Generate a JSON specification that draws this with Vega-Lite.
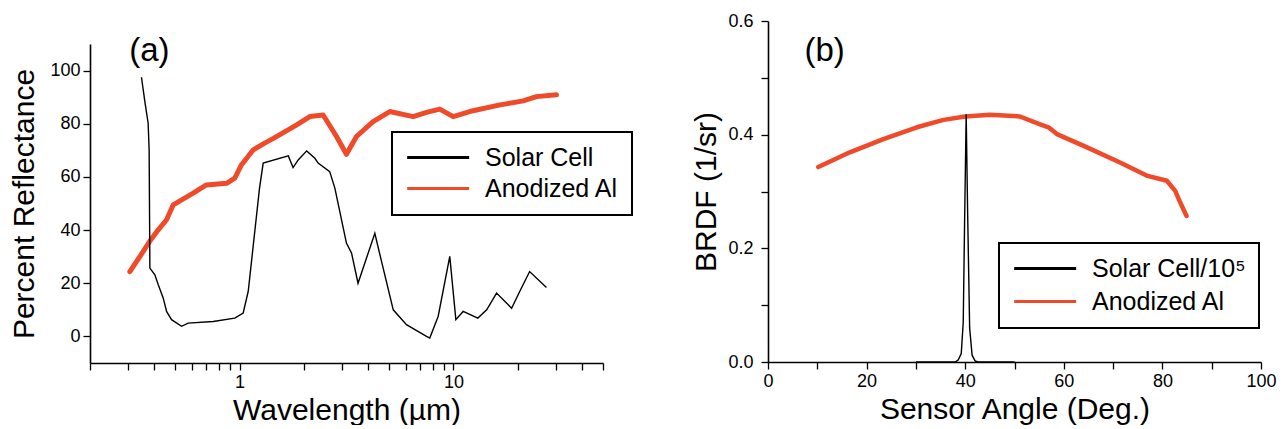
{
  "$schema": "https://vega.github.io/schema/vega-lite/v6.json",
  "padding": {"left": 9, "top": 12, "right": 5, "bottom": 0},
  "background": "white",
  "datasets": {
    "reflect": [
      {"wavelength": 0.348, "reflectance": 97.5, "series": "Solar Cell"},
      {"wavelength": 0.361, "reflectance": 88.3, "series": "Solar Cell"},
      {"wavelength": 0.374, "reflectance": 80.2, "series": "Solar Cell"},
      {"wavelength": 0.378, "reflectance": 70.0, "series": "Solar Cell"},
      {"wavelength": 0.381, "reflectance": 25.7, "series": "Solar Cell"},
      {"wavelength": 0.402, "reflectance": 23.2, "series": "Solar Cell"},
      {"wavelength": 0.417, "reflectance": 19.4, "series": "Solar Cell"},
      {"wavelength": 0.44, "reflectance": 14.4, "series": "Solar Cell"},
      {"wavelength": 0.456, "reflectance": 9.4, "series": "Solar Cell"},
      {"wavelength": 0.481, "reflectance": 6.3, "series": "Solar Cell"},
      {"wavelength": 0.536, "reflectance": 3.8, "series": "Solar Cell"},
      {"wavelength": 0.575, "reflectance": 5.0, "series": "Solar Cell"},
      {"wavelength": 0.753, "reflectance": 5.6, "series": "Solar Cell"},
      {"wavelength": 0.95, "reflectance": 6.9, "series": "Solar Cell"},
      {"wavelength": 1.04, "reflectance": 8.8, "series": "Solar Cell"},
      {"wavelength": 1.098, "reflectance": 16.9, "series": "Solar Cell"},
      {"wavelength": 1.24, "reflectance": 55.8, "series": "Solar Cell"},
      {"wavelength": 1.29, "reflectance": 65.2, "series": "Solar Cell"},
      {"wavelength": 1.69, "reflectance": 67.9, "series": "Solar Cell"},
      {"wavelength": 1.78, "reflectance": 63.5, "series": "Solar Cell"},
      {"wavelength": 1.88, "reflectance": 66.4, "series": "Solar Cell"},
      {"wavelength": 2.06, "reflectance": 69.8, "series": "Solar Cell"},
      {"wavelength": 2.25, "reflectance": 67.0, "series": "Solar Cell"},
      {"wavelength": 2.33, "reflectance": 65.2, "series": "Solar Cell"},
      {"wavelength": 2.64, "reflectance": 62.0, "series": "Solar Cell"},
      {"wavelength": 2.79, "reflectance": 55.8, "series": "Solar Cell"},
      {"wavelength": 3.16, "reflectance": 35.1, "series": "Solar Cell"},
      {"wavelength": 3.34, "reflectance": 31.3, "series": "Solar Cell"},
      {"wavelength": 3.58, "reflectance": 20.0, "series": "Solar Cell"},
      {"wavelength": 4.29, "reflectance": 38.8, "series": "Solar Cell"},
      {"wavelength": 4.61, "reflectance": 28.2, "series": "Solar Cell"},
      {"wavelength": 5.23, "reflectance": 10.0, "series": "Solar Cell"},
      {"wavelength": 6.03, "reflectance": 4.4, "series": "Solar Cell"},
      {"wavelength": 7.48, "reflectance": 0.0, "series": "Solar Cell"},
      {"wavelength": 7.75, "reflectance": -0.6, "series": "Solar Cell"},
      {"wavelength": 8.48, "reflectance": 7.5, "series": "Solar Cell"},
      {"wavelength": 9.61, "reflectance": 30.1, "series": "Solar Cell"},
      {"wavelength": 10.26, "reflectance": 6.3, "series": "Solar Cell"},
      {"wavelength": 11.1, "reflectance": 9.4, "series": "Solar Cell"},
      {"wavelength": 13.0, "reflectance": 6.9, "series": "Solar Cell"},
      {"wavelength": 14.3, "reflectance": 10.0, "series": "Solar Cell"},
      {"wavelength": 15.9, "reflectance": 16.3, "series": "Solar Cell"},
      {"wavelength": 18.7, "reflectance": 10.6, "series": "Solar Cell"},
      {"wavelength": 20.4, "reflectance": 16.9, "series": "Solar Cell"},
      {"wavelength": 22.7, "reflectance": 24.4, "series": "Solar Cell"},
      {"wavelength": 27.2, "reflectance": 18.4, "series": "Solar Cell"},
      {"wavelength": 0.307, "reflectance": 24.4, "series": "Anodized Al"},
      {"wavelength": 0.345, "reflectance": 30.5, "series": "Anodized Al"},
      {"wavelength": 0.381, "reflectance": 35.9, "series": "Anodized Al"},
      {"wavelength": 0.417, "reflectance": 40.1, "series": "Anodized Al"},
      {"wavelength": 0.456, "reflectance": 43.9, "series": "Anodized Al"},
      {"wavelength": 0.49, "reflectance": 49.5, "series": "Anodized Al"},
      {"wavelength": 0.607, "reflectance": 53.9, "series": "Anodized Al"},
      {"wavelength": 0.70, "reflectance": 57.0, "series": "Anodized Al"},
      {"wavelength": 0.87, "reflectance": 57.6, "series": "Anodized Al"},
      {"wavelength": 0.95, "reflectance": 59.5, "series": "Anodized Al"},
      {"wavelength": 1.02, "reflectance": 64.5, "series": "Anodized Al"},
      {"wavelength": 1.16, "reflectance": 70.2, "series": "Anodized Al"},
      {"wavelength": 1.31, "reflectance": 72.7, "series": "Anodized Al"},
      {"wavelength": 1.44, "reflectance": 74.5, "series": "Anodized Al"},
      {"wavelength": 1.85, "reflectance": 79.6, "series": "Anodized Al"},
      {"wavelength": 2.13, "reflectance": 82.7, "series": "Anodized Al"},
      {"wavelength": 2.46, "reflectance": 83.3, "series": "Anodized Al"},
      {"wavelength": 2.84, "reflectance": 75.2, "series": "Anodized Al"},
      {"wavelength": 3.16, "reflectance": 68.5, "series": "Anodized Al"},
      {"wavelength": 3.52, "reflectance": 75.2, "series": "Anodized Al"},
      {"wavelength": 4.21, "reflectance": 80.8, "series": "Anodized Al"},
      {"wavelength": 5.04, "reflectance": 84.6, "series": "Anodized Al"},
      {"wavelength": 6.48, "reflectance": 82.7, "series": "Anodized Al"},
      {"wavelength": 7.48, "reflectance": 84.3, "series": "Anodized Al"},
      {"wavelength": 8.63, "reflectance": 85.5, "series": "Anodized Al"},
      {"wavelength": 9.97, "reflectance": 82.7, "series": "Anodized Al"},
      {"wavelength": 11.9, "reflectance": 84.6, "series": "Anodized Al"},
      {"wavelength": 16.5, "reflectance": 87.1, "series": "Anodized Al"},
      {"wavelength": 21.2, "reflectance": 88.6, "series": "Anodized Al"},
      {"wavelength": 24.4, "reflectance": 90.2, "series": "Anodized Al"},
      {"wavelength": 30.3, "reflectance": 90.9, "series": "Anodized Al"}
    ],
    "brdf": [
      {"angle": 10.2, "brdf": 0.343, "series": "Anodized Al"},
      {"angle": 16.6, "brdf": 0.369, "series": "Anodized Al"},
      {"angle": 23.4, "brdf": 0.392, "series": "Anodized Al"},
      {"angle": 30.2, "brdf": 0.413, "series": "Anodized Al"},
      {"angle": 35.6, "brdf": 0.426, "series": "Anodized Al"},
      {"angle": 40.0, "brdf": 0.432, "series": "Anodized Al"},
      {"angle": 45.0, "brdf": 0.435, "series": "Anodized Al"},
      {"angle": 51.1, "brdf": 0.432, "series": "Anodized Al"},
      {"angle": 55.2, "brdf": 0.418, "series": "Anodized Al"},
      {"angle": 56.9, "brdf": 0.413, "series": "Anodized Al"},
      {"angle": 58.6, "brdf": 0.401, "series": "Anodized Al"},
      {"angle": 64.6, "brdf": 0.378, "series": "Anodized Al"},
      {"angle": 71.4, "brdf": 0.351, "series": "Anodized Al"},
      {"angle": 76.8, "brdf": 0.328, "series": "Anodized Al"},
      {"angle": 80.9, "brdf": 0.319, "series": "Anodized Al"},
      {"angle": 82.6, "brdf": 0.301, "series": "Anodized Al"},
      {"angle": 83.6, "brdf": 0.281, "series": "Anodized Al"},
      {"angle": 84.9, "brdf": 0.257, "series": "Anodized Al"},
      {"angle": 30.0, "brdf": 0.0, "series": "Solar Cell/10⁵"},
      {"angle": 38.0, "brdf": 0.0, "series": "Solar Cell/10⁵"},
      {"angle": 38.6, "brdf": 0.004, "series": "Solar Cell/10⁵"},
      {"angle": 39.2, "brdf": 0.015, "series": "Solar Cell/10⁵"},
      {"angle": 39.6, "brdf": 0.07, "series": "Solar Cell/10⁵"},
      {"angle": 39.9, "brdf": 0.26, "series": "Solar Cell/10⁵"},
      {"angle": 40.2, "brdf": 0.436, "series": "Solar Cell/10⁵"},
      {"angle": 40.5, "brdf": 0.26, "series": "Solar Cell/10⁵"},
      {"angle": 40.9, "brdf": 0.06, "series": "Solar Cell/10⁵"},
      {"angle": 41.4, "brdf": 0.012, "series": "Solar Cell/10⁵"},
      {"angle": 42.0, "brdf": 0.002, "series": "Solar Cell/10⁵"},
      {"angle": 42.6, "brdf": 0.0, "series": "Solar Cell/10⁵"},
      {"angle": 50.0, "brdf": 0.0, "series": "Solar Cell/10⁵"}
    ]
  },
  "hconcat": [
    {
      "vconcat": [
        {
          "width": 513,
          "height": 1,
          "data": {"values": [{"t": ""}]},
          "mark": {"type": "text"},
          "encoding": {"text": {"field": "t"}}
        },
        {
          "width": 513,
          "height": 319,
          "layer": [
            {
              "data": {"name": "reflect"},
              "transform": [{"filter": "datum.series == 'Anodized Al'"}],
              "mark": {"type": "line", "strokeWidth": 5, "strokeCap": "round", "strokeJoin": "round"},
              "encoding": {
                "x": {"field": "wavelength", "type": "quantitative", "scale": {"type": "log", "domain": [0.2, 50], "nice": false},
                  "axis": {"title": "Wavelength (µm)", "values": [0.2, 0.3, 0.4, 0.5, 0.6, 0.7, 0.8, 0.9, 1, 2, 3, 4, 5, 6, 7, 8, 9, 10, 20, 30, 40, 50],
                    "labelExpr": "datum.value == 1 ? '1' : (datum.value == 10 ? '10' : '')", "labelOverlap": false, "labelFlush": false}},
                "y": {"field": "reflectance", "type": "quantitative", "scale": {"domain": [-10, 110], "nice": false},
                  "axis": {"title": "Percent Reflectance", "values": [0, 20, 40, 60, 80, 100], "labelOverlap": false, "titlePadding": 10}},
                "color": {"field": "series", "type": "nominal",
                  "scale": {"domain": ["Solar Cell", "Anodized Al"], "range": ["#000000", "#ef4a2a"]},
                  "legend": {"title": null, "orient": "none", "legendX": 302, "legendY": 111, "rowPadding": 5}}
              }
            },
            {
              "data": {"name": "reflect"},
              "transform": [{"filter": "datum.series == 'Solar Cell'"}],
              "mark": {"type": "line", "strokeWidth": 1.4},
              "encoding": {
                "x": {"field": "wavelength", "type": "quantitative"},
                "y": {"field": "reflectance", "type": "quantitative"},
                "color": {"field": "series", "type": "nominal"}
              }
            },
            {
              "data": {"values": [{"label": "(a)"}]},
              "mark": {"type": "text", "align": "left", "baseline": "middle", "fontSize": 33, "font": "Liberation Sans", "color": "black"},
              "encoding": {
                "x": {"datum": 0.305, "type": "quantitative"},
                "y": {"datum": 107.5, "type": "quantitative"},
                "text": {"field": "label"}
              }
            }
          ]
        }
      ],
      "spacing": 7
    },
    {
      "width": 493,
      "height": 341,
      "layer": [
        {
          "data": {"name": "brdf"},
          "transform": [{"filter": "datum.series == 'Anodized Al'"}],
          "mark": {"type": "line", "strokeWidth": 4.5, "strokeCap": "round", "strokeJoin": "round"},
          "encoding": {
            "x": {"field": "angle", "type": "quantitative", "scale": {"domain": [0, 100], "nice": false},
              "axis": {"title": "Sensor Angle (Deg.)", "values": [0, 10, 20, 30, 40, 50, 60, 70, 80, 90, 100],
                "labelExpr": "datum.value % 20 == 0 ? datum.label : ''", "labelOverlap": false, "labelFlush": false}},
            "y": {"field": "brdf", "type": "quantitative", "scale": {"domain": [0, 0.6], "nice": false},
              "axis": {"title": "BRDF (1/sr)", "values": [0, 0.1, 0.2, 0.3, 0.4, 0.5, 0.6],
                "labelExpr": "round(datum.value * 10) % 2 == 0 ? format(datum.value, '.1f') : ''", "labelOverlap": false, "labelFlush": false, "titlePadding": 6, "labelPadding": 8}},
            "color": {"field": "series", "type": "nominal",
              "scale": {"domain": ["Solar Cell/10⁵", "Anodized Al"], "range": ["#000000", "#ef4a2a"]},
              "legend": {"title": null, "orient": "none", "legendX": 231, "legendY": 222, "rowPadding": 7}}
          }
        },
        {
          "data": {"name": "brdf"},
          "transform": [{"filter": "datum.series != 'Anodized Al'"}],
          "mark": {"type": "line", "strokeWidth": 1.4},
          "encoding": {
            "x": {"field": "angle", "type": "quantitative"},
            "y": {"field": "brdf", "type": "quantitative"},
            "color": {"field": "series", "type": "nominal"}
          }
        },
        {
          "data": {"values": [{"label": "(b)"}]},
          "mark": {"type": "text", "align": "left", "baseline": "middle", "fontSize": 33, "font": "Liberation Sans", "color": "black"},
          "encoding": {
            "x": {"datum": 7.4, "type": "quantitative"},
            "y": {"datum": 0.548, "type": "quantitative"},
            "text": {"field": "label"}
          }
        }
      ]
    }
  ],
  "spacing": 58,
  "resolve": {"scale": {"color": "independent"}, "legend": {"color": "independent"}},
  "config": {
    "view": {"stroke": null},
    "font": "Liberation Sans",
    "axis": {
      "domainColor": "black", "domainWidth": 1.6, "tickColor": "black", "tickWidth": 1.3, "tickSize": 7,
      "labelColor": "black", "labelFontSize": 18, "labelFont": "Liberation Sans", "labelPadding": 3,
      "titleFont": "Liberation Sans", "titleFontSize": 30, "titleFontWeight": "normal", "titleColor": "black",
      "grid": false
    },
    "axisX": {"titlePadding": 4},
    "legend": {
      "labelFont": "Liberation Sans", "labelFontSize": 25, "labelColor": "black",
      "symbolType": "M-1,0H5", "symbolSize": 427, "symbolStrokeWidth": 3, "symbolFillColor": "transparent",
      "strokeColor": "black", "strokeWidth": 2, "padding": 13, "labelOffset": 55
    }
  }
}
